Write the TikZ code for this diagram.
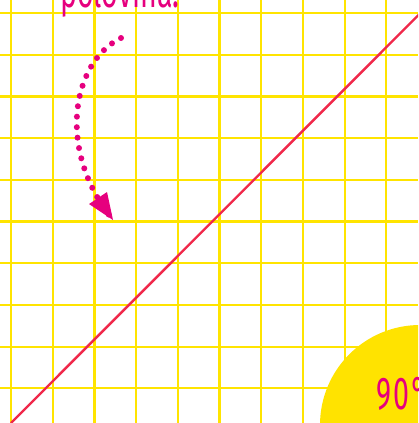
\documentclass[tikz,border=0pt]{standalone}
\usepackage{fontspec}
\setmainfont{Fira Sans}
\usetikzlibrary{arrows.meta}
\definecolor{gridyellow}{HTML}{FFE400}
\definecolor{sunyellow}{HTML}{FFE300}
\definecolor{linered}{HTML}{F0284A}
\definecolor{notepink}{HTML}{E6007E}
\begin{document}
\begin{tikzpicture}[x=1pt,y=-1pt,
  grid line/.style={gridyellow,line width=2.2pt},
  pink text/.style={text=notepink,inner sep=0pt,transform shape,xscale=0.62},
  dot path/.style={notepink,line width=6pt,line cap=round,dash pattern=on 0pt off 10.5pt}]%
  \useasboundingbox (0,0) rectangle (418,423);
  \clip (0,0) rectangle (418,423);
  \pgfmathsetmacro{\cell}{41.7}
  \foreach \i in {0,...,9} {
    \draw[grid line] (11+\i*\cell, 0) -- (11+\i*\cell, 423);
    \draw[grid line] (0, 13+\i*\cell) -- (418, 13+\i*\cell);
  }
  % corner quarter disc
  \fill[sunyellow] (420,425) circle [radius=100];
  \node[pink text,anchor=base west,font=\fontsize{46}{46}\selectfont\addfontfeatures{LetterSpace=8}] (angle) at (376,409) {90°};
  % diagonal
  \coordinate (lowleft) at (11,423);
  \coordinate (upright) at (420,13.5);
  \draw[linered,line width=2.4pt] (lowleft) -- (upright);
  % label and curved dotted arrow
  \node[pink text,anchor=base west,font=\fontsize{46}{46}\selectfont] (half) at (60,7) {polovina.};
  \coordinate (start) at (121,38);
  \coordinate (tip) at (113,220);
  \draw[dot path] (start) .. controls (72,62) and (56,150) .. (tip);
  \fill[notepink] (tip) -- (89,204) -- (107,192) -- cycle;
\end{tikzpicture}
\end{document}
